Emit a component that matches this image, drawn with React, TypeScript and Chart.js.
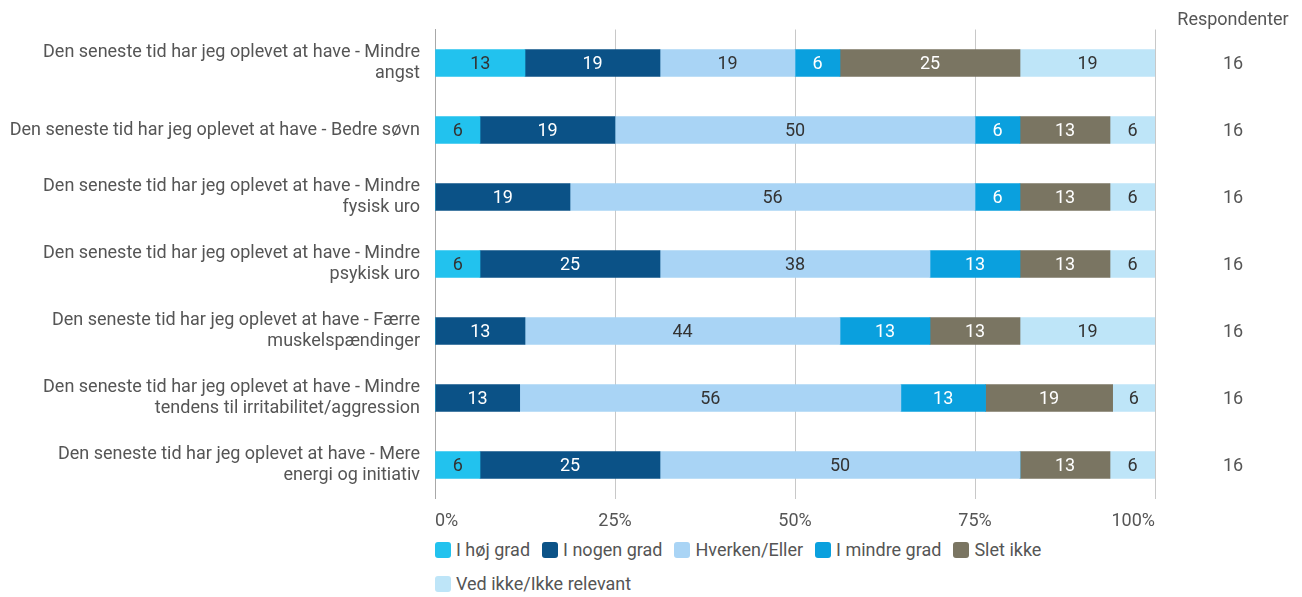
import React, { useEffect, useRef } from "react";
import { Chart, registerables } from "chart.js";

Chart.register(...registerables);

const categories: string[][] = [
  ["Den seneste tid har jeg oplevet at have - Mindre", "angst"],
  ["Den seneste tid har jeg oplevet at have - Bedre søvn"],
  ["Den seneste tid har jeg oplevet at have - Mindre", "fysisk uro"],
  ["Den seneste tid har jeg oplevet at have - Mindre", "psykisk uro"],
  ["Den seneste tid har jeg oplevet at have - Færre", "muskelspændinger"],
  ["Den seneste tid har jeg oplevet at have - Mindre", "tendens til irritabilitet/aggression"],
  ["Den seneste tid har jeg oplevet at have - Mere", "energi og initiativ"],
];

const seriesNames = ["I høj grad", "I nogen grad", "Hverken/Eller", "I mindre grad", "Slet ikke", "Ved ikke/Ikke relevant"];
const seriesColors = ["#22c2ee", "#0b5287", "#a9d4f5", "#0aa0de", "#7a7562", "#bee5f8"];
const labelColors = ["#333333", "#ffffff", "#333333", "#ffffff", "#ffffff", "#333333"];

const hoejGrad = [12.5, 6.25, 0, 6.25, 0, 0, 6.25];
const nogenGrad = [18.75, 18.75, 18.75, 25, 12.5, 12.5, 25];
const hverken = [18.75, 50, 56.25, 37.5, 43.75, 56.25, 50];
const mindreGrad = [6.25, 6.25, 6.25, 12.5, 12.5, 12.5, 0];
const sletIkke = [25, 12.5, 12.5, 12.5, 12.5, 18.75, 12.5];
const vedIkke = [18.75, 6.25, 6.25, 6.25, 18.75, 6.25, 6.25];
const respondents = [16, 16, 16, 16, 16, 16, 16];
const xTicks = ["0%", "25%", "50%", "75%", "100%"];

const seriesValues = [hoejGrad, nogenGrad, hverken, mindreGrad, sletIkke, vedIkke];

const FONT = "Roboto, 'Noto Sans', sans-serif";
const TEXT = "#555555";
const FS = 18;

export default function App() {
  const ref = useRef<HTMLCanvasElement>(null);

  useEffect(() => {
    if (!ref.current) return;
    const rowSums = categories.map((_, i) => seriesValues.reduce((s, arr) => s + arr[i], 0));
    const datasets = seriesValues.map((vals, k) => ({
      label: seriesNames[k],
      data: vals.map((v, i) => (v / rowSums[i]) * 100),
      rawValues: vals,
      backgroundColor: seriesColors[k],
      textColor: labelColors[k],
      borderWidth: 0,
      barThickness: 27,
    }));

    const labelsPlugin = {
      id: "barLabels",
      afterDatasetsDraw(chart: any) {
        const ctx = chart.ctx;
        ctx.save();
        ctx.font = `${FS}px ${FONT}`;
        ctx.textAlign = "center";
        ctx.textBaseline = "middle";
        chart.data.datasets.forEach((ds: any, di: number) => {
          const meta = chart.getDatasetMeta(di);
          meta.data.forEach((el: any, i: number) => {
            const raw = ds.rawValues[i];
            if (!raw) return;
            ctx.fillStyle = ds.textColor;
            ctx.fillText(String(Math.round(raw)), (el.x + el.base) / 2, el.y + 1);
          });
        });
        const y = chart.scales.y;
        ctx.fillStyle = TEXT;
        ctx.fillText("Respondenter", 1233, 20);
        respondents.forEach((r, i) => {
          ctx.fillText(String(r), 1233, y.getPixelForValue(i) + 1);
        });
        ctx.restore();
      },
    };

    const chart = new Chart(ref.current, {
      type: "bar",
      data: { labels: categories, datasets: datasets as any },
      options: {
        indexAxis: "y",
        animation: false,
        responsive: false,
        maintainAspectRatio: false,
        layout: { padding: { top: 29.5, right: 147, left: 0, bottom: 0 } },
        plugins: { legend: { display: false }, tooltip: { enabled: false } },
        scales: {
          x: {
            stacked: true,
            min: 0,
            max: 100,
            afterFit(scale: any) {
              scale.height = 40.5;
              scale.paddingLeft = 0;
              scale.paddingRight = 0;
            },
            ticks: {
              stepSize: 25,
              padding: 12,
              align: "inner",
              color: TEXT,
              font: { family: FONT, size: FS },
              callback: (v: any) => xTicks[Math.round(Number(v) / 25)],
            },
            grid: { color: "#c8c8c8", drawTicks: false, lineWidth: 1 },
            border: { display: false },
          },
          y: {
            stacked: true,
            afterFit(scale: any) {
              scale.width = 435;
              scale.paddingTop = 0;
              scale.paddingBottom = 0;
            },
            ticks: {
              padding: 15,
              color: TEXT,
              font: { family: FONT, size: FS, lineHeight: 1.12 },
            },
            grid: { display: false, drawTicks: false },
            border: { display: true, color: "#a8a8a8", width: 1 },
          },
        },
      },
      plugins: [labelsPlugin],
    });
    return () => chart.destroy();
  }, []);

  return (
    <div style={{ position: "fixed", left: 0, top: 0, width: 1302, height: 597, background: "#fff", fontFamily: FONT }}>
      <canvas ref={ref} width={1302} height={539} style={{ display: "block" }} />
      <div
        style={{
          position: "absolute",
          left: 435,
          top: 539,
          width: 720,
          display: "flex",
          flexWrap: "wrap",
          rowGap: 12,
          columnGap: 12,
          fontSize: FS,
          color: TEXT,
          lineHeight: "22px",
        }}
      >
        {seriesNames.map((n, k) => (
          <div key={n} style={{ display: "flex", alignItems: "center" }}>
            <span
              style={{
                display: "inline-block",
                width: 16,
                height: 16,
                borderRadius: 3,
                background: seriesColors[k],
                marginRight: 5,
              }}
            />
            <span>{n}</span>
          </div>
        ))}
      </div>
    </div>
  );
}
